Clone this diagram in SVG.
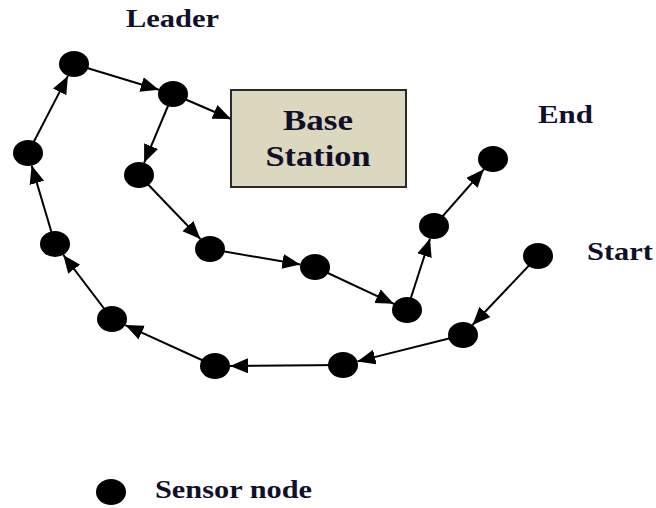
<svg xmlns="http://www.w3.org/2000/svg" width="656" height="508" viewBox="0 0 656 508">
<defs>
<style>
.lbl{font-family:'Liberation Serif','DejaVu Serif',serif;font-weight:700;fill:#10102a;}
.edge{stroke:#000;stroke-width:2;fill:none;marker-end:url(#ah);}
.node{fill:#000;}
</style>
<marker id="ah" markerUnits="userSpaceOnUse" markerWidth="20" markerHeight="17" refX="18" refY="7.5" orient="auto">
<path d="M0,0 L18,7.5 L0,15 z" fill="#000"/>
</marker>
</defs>
<rect width="656" height="508" fill="#fff"/>
<g id="connectors">
<line class="edge" x1="538" y1="256" x2="472.5" y2="325"/>
<line class="edge" x1="463" y1="335" x2="357.4" y2="361.4"/>
<line class="edge" x1="343" y1="365" x2="230" y2="366"/>
<line class="edge" x1="215" y1="366" x2="125.3" y2="325.1"/>
<line class="edge" x1="112" y1="319" x2="63.3" y2="254.9"/>
<line class="edge" x1="55" y1="244" x2="31.7" y2="165.6"/>
<line class="edge" x1="28" y1="153" x2="67.9" y2="75.9"/>
<line class="edge" x1="74" y1="64" x2="158.8" y2="89.7"/>
<line class="edge" x1="173" y1="94" x2="231" y2="119"/>
<line class="edge" x1="173" y1="94" x2="144.1" y2="162.8"/>
<line class="edge" x1="139" y1="175" x2="200.4" y2="239"/>
<line class="edge" x1="210" y1="249" x2="300.3" y2="264.5"/>
<line class="edge" x1="315" y1="267" x2="393.8" y2="303.8"/>
<line class="edge" x1="407" y1="310" x2="430" y2="238.5"/>
<line class="edge" x1="434" y1="226" x2="483.9" y2="169.3"/>
</g>
<g id="base-station">
<rect x="231" y="90" width="175" height="97" fill="#dcd8c0" stroke="#2a2a2a" stroke-width="2"/>
<text class="lbl" x="318" y="130" font-size="30" text-anchor="middle" textLength="70" lengthAdjust="spacingAndGlyphs">Base</text>
<text class="lbl" x="318" y="166" font-size="30" text-anchor="middle" textLength="105" lengthAdjust="spacingAndGlyphs">Station</text>
</g>
<g id="n-leader"><ellipse class="node" cx="74" cy="64" rx="15" ry="13"/></g>
<g id="n2"><ellipse class="node" cx="173" cy="94" rx="15" ry="13"/></g>
<g id="n3"><ellipse class="node" cx="28" cy="153" rx="15" ry="13"/></g>
<g id="n4"><ellipse class="node" cx="139" cy="175" rx="15" ry="13"/></g>
<g id="n5"><ellipse class="node" cx="55" cy="244" rx="15" ry="13"/></g>
<g id="n6"><ellipse class="node" cx="210" cy="249" rx="15" ry="13"/></g>
<g id="n7"><ellipse class="node" cx="315" cy="267" rx="15" ry="13"/></g>
<g id="n8"><ellipse class="node" cx="407" cy="310" rx="15" ry="13"/></g>
<g id="n9"><ellipse class="node" cx="434" cy="226" rx="15" ry="13"/></g>
<g id="n-end"><ellipse class="node" cx="493" cy="159" rx="15" ry="13"/></g>
<g id="n-start"><ellipse class="node" cx="538" cy="256" rx="15" ry="13"/></g>
<g id="n12"><ellipse class="node" cx="463" cy="335" rx="15" ry="13"/></g>
<g id="n13"><ellipse class="node" cx="343" cy="365" rx="15" ry="13"/></g>
<g id="n14"><ellipse class="node" cx="215" cy="366" rx="15" ry="13"/></g>
<g id="n15"><ellipse class="node" cx="112" cy="319" rx="15" ry="13"/></g>
<g id="labels">
<text class="lbl" x="126" y="27" font-size="25" textLength="93" lengthAdjust="spacingAndGlyphs">Leader</text>
<text class="lbl" x="538" y="123" font-size="25" textLength="55" lengthAdjust="spacingAndGlyphs">End</text>
<text class="lbl" x="587" y="260" font-size="25" textLength="66" lengthAdjust="spacingAndGlyphs">Start</text>
</g>
<g id="legend">
<ellipse class="node" cx="111" cy="492" rx="15" ry="13"/>
<text class="lbl" x="155" y="498" font-size="25" textLength="157" lengthAdjust="spacingAndGlyphs">Sensor node</text>
</g>
</svg>
